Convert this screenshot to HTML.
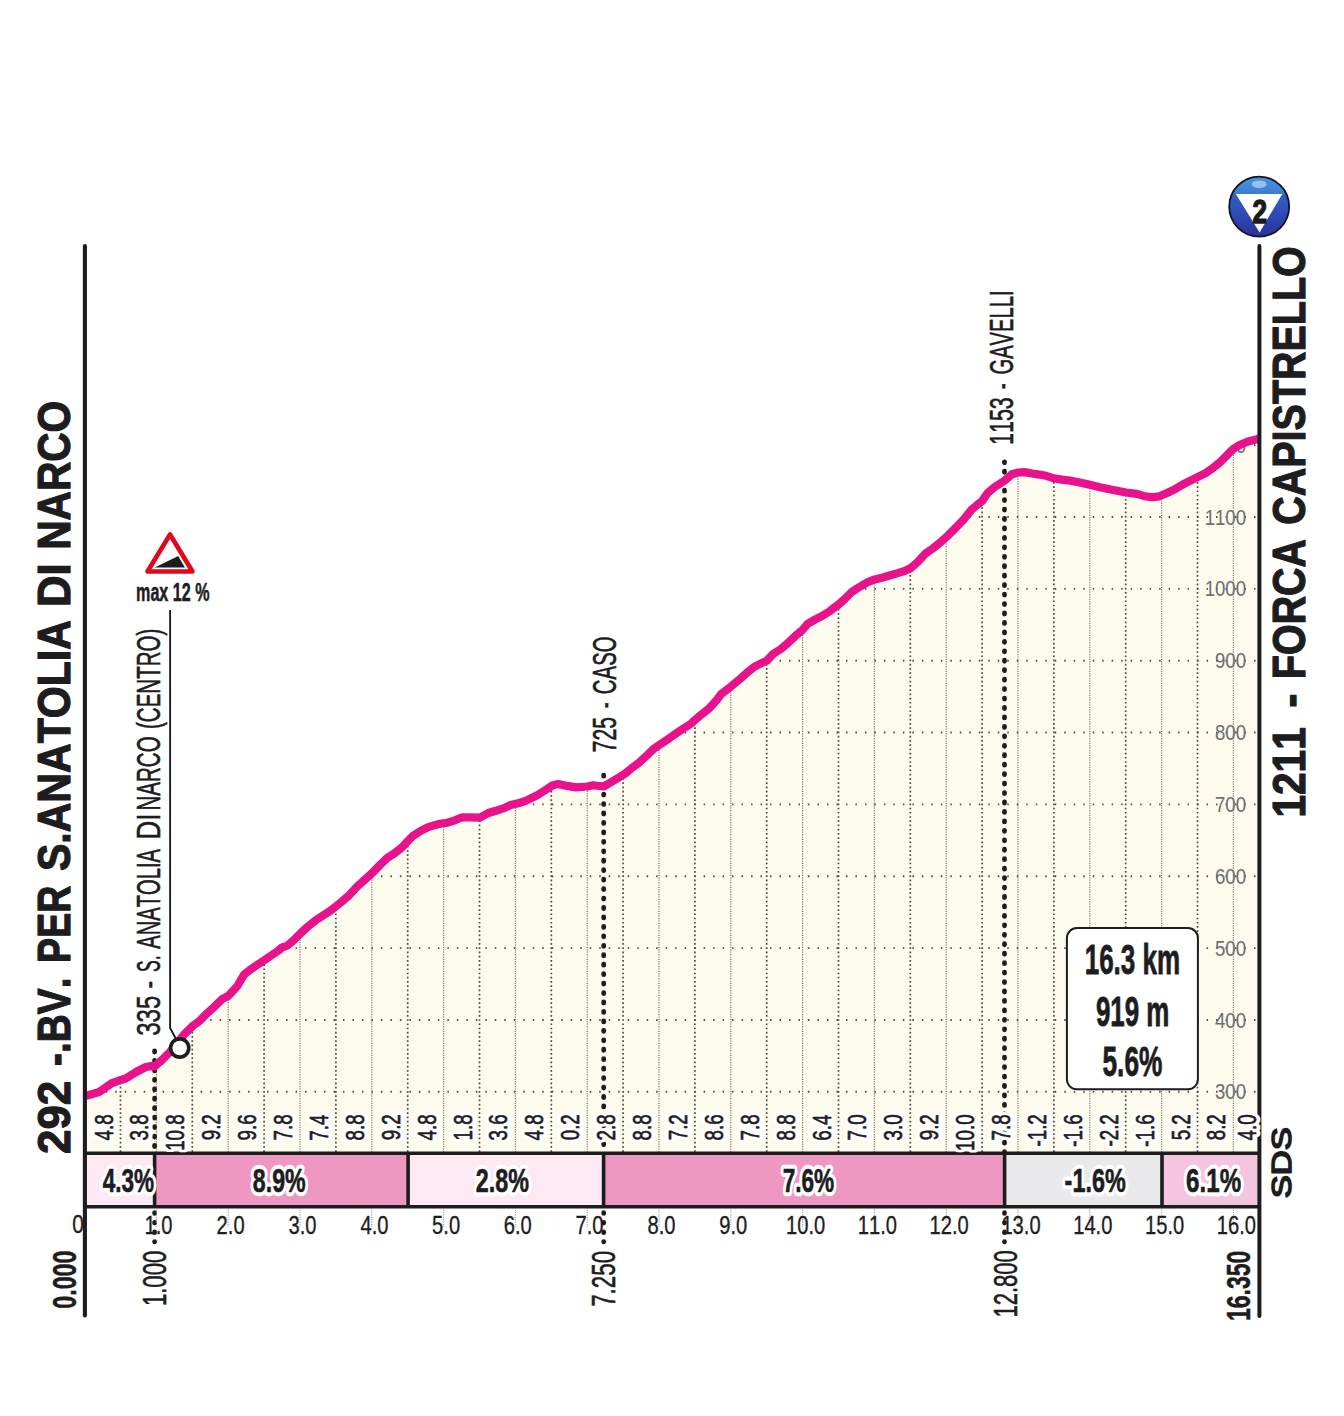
<!DOCTYPE html>
<html><head><meta charset="utf-8"><title>Profile</title><style>html,body{margin:0;padding:0;background:#fff;width:1344px;height:1416px;overflow:hidden}svg text{font-kerning:none}</style></head><body>
<svg width="1344" height="1416" viewBox="0 0 1344 1416" style="display:block;font-kerning:none">
<rect width="1344" height="1416" fill="#fff"/>
<defs><clipPath id="ca"><polygon points="84.9,1096.3 87,1095.5 98.9,1092.1 111.5,1083.4 120.5,1080 125.7,1078.5 136.1,1072 145.8,1067 151,1066.1 154.7,1066.3 162.1,1059.8 169.6,1052.3 184.9,1033.7 192.3,1026.3 199.8,1020.7 207.2,1013.2 214.6,1006.5 222.1,999.1 228.4,995.8 237,986.5 244.4,974.2 251.8,968.6 259.5,963.4 264.1,960.4 271.2,955.5 278.6,950.3 282.3,947.3 287.5,945.5 293.5,940.3 300.2,933.6 308.4,926.1 315.8,920.2 323.2,915.3 330.7,910.5 335.9,906.4 341.8,901.6 349.6,894.8 357.4,886.3 364.9,879.6 371.9,873.3 379.8,865.1 387.2,858 394.6,853.2 402.1,847.2 408,840.9 413.2,835.7 420.7,830.9 428.1,827.2 435.6,824.9 440,823.8 447.4,822.7 454.9,820.3 462.3,817.3 469.8,817.3 479.8,817.7 488.4,813 495.8,810.8 503.2,808.4 510.7,805 518.1,803.3 525.6,800.9 530,798.8 537.4,795.1 544.9,790.4 552.3,785.5 558.3,783.9 567.2,785.9 576.1,787.4 587.3,786.5 593.2,785.2 603.7,786.5 611.8,781.7 619.3,777.2 625.2,773.5 631.2,768.6 638.6,763 646,756.3 653.5,748.8 659.1,745.1 668.4,738.8 675.8,733.6 683.2,728.7 690.7,723.9 695.1,719.8 701.8,714.2 709.3,708.3 716.7,700.1 721.2,694 730.8,686.7 739.8,679.2 747.2,672.5 754.6,666.6 762.1,662.9 766.9,660.6 773.2,653.9 780.7,649.1 788.1,642.8 795.6,635.7 802.6,629.8 807.4,624 814.9,619.6 822.3,615.9 829.8,611.1 838.7,604.4 844.6,599.2 852.1,591.7 859.5,586.9 867,582.4 874.8,579.4 881.8,577.7 889.5,575.5 897.8,573.1 905.5,570.6 910.4,568.3 917.2,562.5 925,553.9 932.7,548.5 940.5,542.3 946.6,536.8 956,527.5 963.8,519.3 971.6,509.6 977,505 982.1,501.1 987.4,493.2 994.9,486.9 1004.6,480.6 1012,474.2 1018.2,472.5 1024.6,472.1 1032.1,473.5 1039.5,474.6 1047,476.1 1054,478.3 1061.8,479.6 1070,480.6 1077.4,482 1089.9,484.8 1099.8,487.2 1110.9,489.5 1126,492.5 1137,493.9 1144.4,496.2 1151.8,497.1 1159.5,496.3 1167.6,492.8 1175.2,489.1 1182.8,484.5 1190.4,480.7 1197.9,476.9 1205.5,473.1 1213.1,467.8 1220.7,461.7 1228.3,453.8 1233.6,448.8 1239.7,445 1247.3,441.8 1254.9,439.7 1259.4,438.5 1259.4,1153.3 84.9,1153.3"/></clipPath></defs>
<polygon points="84.9,1096.3 87,1095.5 98.9,1092.1 111.5,1083.4 120.5,1080 125.7,1078.5 136.1,1072 145.8,1067 151,1066.1 154.7,1066.3 162.1,1059.8 169.6,1052.3 184.9,1033.7 192.3,1026.3 199.8,1020.7 207.2,1013.2 214.6,1006.5 222.1,999.1 228.4,995.8 237,986.5 244.4,974.2 251.8,968.6 259.5,963.4 264.1,960.4 271.2,955.5 278.6,950.3 282.3,947.3 287.5,945.5 293.5,940.3 300.2,933.6 308.4,926.1 315.8,920.2 323.2,915.3 330.7,910.5 335.9,906.4 341.8,901.6 349.6,894.8 357.4,886.3 364.9,879.6 371.9,873.3 379.8,865.1 387.2,858 394.6,853.2 402.1,847.2 408,840.9 413.2,835.7 420.7,830.9 428.1,827.2 435.6,824.9 440,823.8 447.4,822.7 454.9,820.3 462.3,817.3 469.8,817.3 479.8,817.7 488.4,813 495.8,810.8 503.2,808.4 510.7,805 518.1,803.3 525.6,800.9 530,798.8 537.4,795.1 544.9,790.4 552.3,785.5 558.3,783.9 567.2,785.9 576.1,787.4 587.3,786.5 593.2,785.2 603.7,786.5 611.8,781.7 619.3,777.2 625.2,773.5 631.2,768.6 638.6,763 646,756.3 653.5,748.8 659.1,745.1 668.4,738.8 675.8,733.6 683.2,728.7 690.7,723.9 695.1,719.8 701.8,714.2 709.3,708.3 716.7,700.1 721.2,694 730.8,686.7 739.8,679.2 747.2,672.5 754.6,666.6 762.1,662.9 766.9,660.6 773.2,653.9 780.7,649.1 788.1,642.8 795.6,635.7 802.6,629.8 807.4,624 814.9,619.6 822.3,615.9 829.8,611.1 838.7,604.4 844.6,599.2 852.1,591.7 859.5,586.9 867,582.4 874.8,579.4 881.8,577.7 889.5,575.5 897.8,573.1 905.5,570.6 910.4,568.3 917.2,562.5 925,553.9 932.7,548.5 940.5,542.3 946.6,536.8 956,527.5 963.8,519.3 971.6,509.6 977,505 982.1,501.1 987.4,493.2 994.9,486.9 1004.6,480.6 1012,474.2 1018.2,472.5 1024.6,472.1 1032.1,473.5 1039.5,474.6 1047,476.1 1054,478.3 1061.8,479.6 1070,480.6 1077.4,482 1089.9,484.8 1099.8,487.2 1110.9,489.5 1126,492.5 1137,493.9 1144.4,496.2 1151.8,497.1 1159.5,496.3 1167.6,492.8 1175.2,489.1 1182.8,484.5 1190.4,480.7 1197.9,476.9 1205.5,473.1 1213.1,467.8 1220.7,461.7 1228.3,453.8 1233.6,448.8 1239.7,445 1247.3,441.8 1254.9,439.7 1259.4,438.5 1259.4,1153.3 84.9,1153.3" fill="#fdfbee"/>
<g clip-path="url(#ca)">
<line x1="86.75" y1="1091.8" x2="1259.4" y2="1091.8" stroke="#505050" stroke-width="1.9" stroke-dasharray="1.5 7.99"/>
<line x1="86.75" y1="1019.95" x2="1259.4" y2="1019.95" stroke="#505050" stroke-width="1.9" stroke-dasharray="1.5 7.99"/>
<line x1="86.75" y1="948.1" x2="1259.4" y2="948.1" stroke="#505050" stroke-width="1.9" stroke-dasharray="1.5 7.99"/>
<line x1="86.75" y1="876.25" x2="1259.4" y2="876.25" stroke="#505050" stroke-width="1.9" stroke-dasharray="1.5 7.99"/>
<line x1="86.75" y1="804.4" x2="1259.4" y2="804.4" stroke="#505050" stroke-width="1.9" stroke-dasharray="1.5 7.99"/>
<line x1="86.75" y1="732.55" x2="1259.4" y2="732.55" stroke="#505050" stroke-width="1.9" stroke-dasharray="1.5 7.99"/>
<line x1="86.75" y1="660.7" x2="1259.4" y2="660.7" stroke="#505050" stroke-width="1.9" stroke-dasharray="1.5 7.99"/>
<line x1="86.75" y1="588.85" x2="1259.4" y2="588.85" stroke="#505050" stroke-width="1.9" stroke-dasharray="1.5 7.99"/>
<line x1="86.75" y1="517" x2="1259.4" y2="517" stroke="#505050" stroke-width="1.9" stroke-dasharray="1.5 7.99"/>
<line x1="86.75" y1="445.15" x2="1259.4" y2="445.15" stroke="#505050" stroke-width="1.9" stroke-dasharray="1.5 7.99"/>
<line x1="156.4" y1="1152" x2="156.4" y2="300" stroke="#777" stroke-width="1.2" stroke-dasharray="1.2 1.2"/>
<line x1="228.2" y1="1152" x2="228.2" y2="300" stroke="#777" stroke-width="1.2" stroke-dasharray="1.2 1.2"/>
<line x1="300" y1="1152" x2="300" y2="300" stroke="#777" stroke-width="1.2" stroke-dasharray="1.2 1.2"/>
<line x1="371.8" y1="1152" x2="371.8" y2="300" stroke="#777" stroke-width="1.2" stroke-dasharray="1.2 1.2"/>
<line x1="443.6" y1="1152" x2="443.6" y2="300" stroke="#777" stroke-width="1.2" stroke-dasharray="1.2 1.2"/>
<line x1="515.4" y1="1152" x2="515.4" y2="300" stroke="#777" stroke-width="1.2" stroke-dasharray="1.2 1.2"/>
<line x1="587.2" y1="1152" x2="587.2" y2="300" stroke="#777" stroke-width="1.2" stroke-dasharray="1.2 1.2"/>
<line x1="659" y1="1152" x2="659" y2="300" stroke="#777" stroke-width="1.2" stroke-dasharray="1.2 1.2"/>
<line x1="730.8" y1="1152" x2="730.8" y2="300" stroke="#777" stroke-width="1.2" stroke-dasharray="1.2 1.2"/>
<line x1="802.6" y1="1152" x2="802.6" y2="300" stroke="#777" stroke-width="1.2" stroke-dasharray="1.2 1.2"/>
<line x1="874.4" y1="1152" x2="874.4" y2="300" stroke="#777" stroke-width="1.2" stroke-dasharray="1.2 1.2"/>
<line x1="946.2" y1="1152" x2="946.2" y2="300" stroke="#777" stroke-width="1.2" stroke-dasharray="1.2 1.2"/>
<line x1="1018" y1="1152" x2="1018" y2="300" stroke="#777" stroke-width="1.2" stroke-dasharray="1.2 1.2"/>
<line x1="1089.8" y1="1152" x2="1089.8" y2="300" stroke="#777" stroke-width="1.2" stroke-dasharray="1.2 1.2"/>
<line x1="1161.6" y1="1152" x2="1161.6" y2="300" stroke="#777" stroke-width="1.2" stroke-dasharray="1.2 1.2"/>
<line x1="1233.4" y1="1152" x2="1233.4" y2="300" stroke="#777" stroke-width="1.2" stroke-dasharray="1.2 1.2"/>
<line x1="120.5" y1="1152" x2="120.5" y2="300" stroke="#4a4a4a" stroke-width="1.7" stroke-dasharray="1.7 2.53"/>
<line x1="192.3" y1="1152" x2="192.3" y2="300" stroke="#4a4a4a" stroke-width="1.7" stroke-dasharray="1.7 2.53"/>
<line x1="264.1" y1="1152" x2="264.1" y2="300" stroke="#4a4a4a" stroke-width="1.7" stroke-dasharray="1.7 2.53"/>
<line x1="335.9" y1="1152" x2="335.9" y2="300" stroke="#4a4a4a" stroke-width="1.7" stroke-dasharray="1.7 2.53"/>
<line x1="407.7" y1="1152" x2="407.7" y2="300" stroke="#4a4a4a" stroke-width="1.7" stroke-dasharray="1.7 2.53"/>
<line x1="479.5" y1="1152" x2="479.5" y2="300" stroke="#4a4a4a" stroke-width="1.7" stroke-dasharray="1.7 2.53"/>
<line x1="551.3" y1="1152" x2="551.3" y2="300" stroke="#4a4a4a" stroke-width="1.7" stroke-dasharray="1.7 2.53"/>
<line x1="623.1" y1="1152" x2="623.1" y2="300" stroke="#4a4a4a" stroke-width="1.7" stroke-dasharray="1.7 2.53"/>
<line x1="694.9" y1="1152" x2="694.9" y2="300" stroke="#4a4a4a" stroke-width="1.7" stroke-dasharray="1.7 2.53"/>
<line x1="766.7" y1="1152" x2="766.7" y2="300" stroke="#4a4a4a" stroke-width="1.7" stroke-dasharray="1.7 2.53"/>
<line x1="838.5" y1="1152" x2="838.5" y2="300" stroke="#4a4a4a" stroke-width="1.7" stroke-dasharray="1.7 2.53"/>
<line x1="910.3" y1="1152" x2="910.3" y2="300" stroke="#4a4a4a" stroke-width="1.7" stroke-dasharray="1.7 2.53"/>
<line x1="982.1" y1="1152" x2="982.1" y2="300" stroke="#4a4a4a" stroke-width="1.7" stroke-dasharray="1.7 2.53"/>
<line x1="1053.9" y1="1152" x2="1053.9" y2="300" stroke="#4a4a4a" stroke-width="1.7" stroke-dasharray="1.7 2.53"/>
<line x1="1125.7" y1="1152" x2="1125.7" y2="300" stroke="#4a4a4a" stroke-width="1.7" stroke-dasharray="1.7 2.53"/>
<line x1="1197.5" y1="1152" x2="1197.5" y2="300" stroke="#4a4a4a" stroke-width="1.7" stroke-dasharray="1.7 2.53"/>
<text font-family="'Liberation Sans', Arial, sans-serif" font-size="21.2" fill="#6e6e6e" transform="translate(1215 1099.4) scale(0.8800 1)">300</text>
<text font-family="'Liberation Sans', Arial, sans-serif" font-size="21.2" fill="#6e6e6e" transform="translate(1215 1027.55) scale(0.8800 1)">400</text>
<text font-family="'Liberation Sans', Arial, sans-serif" font-size="21.2" fill="#6e6e6e" transform="translate(1215 955.7) scale(0.8800 1)">500</text>
<text font-family="'Liberation Sans', Arial, sans-serif" font-size="21.2" fill="#6e6e6e" transform="translate(1215 883.85) scale(0.8800 1)">600</text>
<text font-family="'Liberation Sans', Arial, sans-serif" font-size="21.2" fill="#6e6e6e" transform="translate(1215 812) scale(0.8800 1)">700</text>
<text font-family="'Liberation Sans', Arial, sans-serif" font-size="21.2" fill="#6e6e6e" transform="translate(1215 740.15) scale(0.8800 1)">800</text>
<text font-family="'Liberation Sans', Arial, sans-serif" font-size="21.2" fill="#6e6e6e" transform="translate(1215 668.3) scale(0.8800 1)">900</text>
<text font-family="'Liberation Sans', Arial, sans-serif" font-size="21.2" fill="#6e6e6e" transform="translate(1204.63 596.45) scale(0.8800 1)">1000</text>
<text font-family="'Liberation Sans', Arial, sans-serif" font-size="21.2" fill="#6e6e6e" transform="translate(1204.63 524.6) scale(0.8800 1)">1100</text>
<text font-family="'Liberation Sans', Arial, sans-serif" font-size="21.2" fill="#6e6e6e" transform="translate(1204.63 452.75) scale(0.8800 1)">1200</text>
</g>
<line x1="154.6" y1="1051" x2="154.6" y2="1152" stroke="#1d1d1f" stroke-width="4.8" stroke-linecap="round" stroke-dasharray="1 8.45"/>
<line x1="603.7" y1="775.2" x2="603.7" y2="1152" stroke="#1d1d1f" stroke-width="4.8" stroke-linecap="round" stroke-dasharray="1 8.45"/>
<line x1="1004.5" y1="461.8" x2="1004.5" y2="1152" stroke="#1d1d1f" stroke-width="4.8" stroke-linecap="round" stroke-dasharray="1 8.45"/>
<polyline points="84.9,1096.3 87,1095.5 98.9,1092.1 111.5,1083.4 120.5,1080 125.7,1078.5 136.1,1072 145.8,1067 151,1066.1 154.7,1066.3 162.1,1059.8 169.6,1052.3 184.9,1033.7 192.3,1026.3 199.8,1020.7 207.2,1013.2 214.6,1006.5 222.1,999.1 228.4,995.8 237,986.5 244.4,974.2 251.8,968.6 259.5,963.4 264.1,960.4 271.2,955.5 278.6,950.3 282.3,947.3 287.5,945.5 293.5,940.3 300.2,933.6 308.4,926.1 315.8,920.2 323.2,915.3 330.7,910.5 335.9,906.4 341.8,901.6 349.6,894.8 357.4,886.3 364.9,879.6 371.9,873.3 379.8,865.1 387.2,858 394.6,853.2 402.1,847.2 408,840.9 413.2,835.7 420.7,830.9 428.1,827.2 435.6,824.9 440,823.8 447.4,822.7 454.9,820.3 462.3,817.3 469.8,817.3 479.8,817.7 488.4,813 495.8,810.8 503.2,808.4 510.7,805 518.1,803.3 525.6,800.9 530,798.8 537.4,795.1 544.9,790.4 552.3,785.5 558.3,783.9 567.2,785.9 576.1,787.4 587.3,786.5 593.2,785.2 603.7,786.5 611.8,781.7 619.3,777.2 625.2,773.5 631.2,768.6 638.6,763 646,756.3 653.5,748.8 659.1,745.1 668.4,738.8 675.8,733.6 683.2,728.7 690.7,723.9 695.1,719.8 701.8,714.2 709.3,708.3 716.7,700.1 721.2,694 730.8,686.7 739.8,679.2 747.2,672.5 754.6,666.6 762.1,662.9 766.9,660.6 773.2,653.9 780.7,649.1 788.1,642.8 795.6,635.7 802.6,629.8 807.4,624 814.9,619.6 822.3,615.9 829.8,611.1 838.7,604.4 844.6,599.2 852.1,591.7 859.5,586.9 867,582.4 874.8,579.4 881.8,577.7 889.5,575.5 897.8,573.1 905.5,570.6 910.4,568.3 917.2,562.5 925,553.9 932.7,548.5 940.5,542.3 946.6,536.8 956,527.5 963.8,519.3 971.6,509.6 977,505 982.1,501.1 987.4,493.2 994.9,486.9 1004.6,480.6 1012,474.2 1018.2,472.5 1024.6,472.1 1032.1,473.5 1039.5,474.6 1047,476.1 1054,478.3 1061.8,479.6 1070,480.6 1077.4,482 1089.9,484.8 1099.8,487.2 1110.9,489.5 1126,492.5 1137,493.9 1144.4,496.2 1151.8,497.1 1159.5,496.3 1167.6,492.8 1175.2,489.1 1182.8,484.5 1190.4,480.7 1197.9,476.9 1205.5,473.1 1213.1,467.8 1220.7,461.7 1228.3,453.8 1233.6,448.8 1239.7,445 1247.3,441.8 1254.9,439.7 1259.4,438.5" fill="none" stroke="#e8128a" stroke-width="8.2" stroke-linejoin="round" stroke-linecap="butt"/>
<polyline points="170.1,610 170.1,1028 175.5,1038" fill="none" stroke="#1d1d1f" stroke-width="1.9"/>
<circle cx="179.7" cy="1048" r="9.1" fill="#fff" stroke="#1d1d1f" stroke-width="3.6"/>
<rect x="84.9" y="1153.3" width="69.7" height="53.4" fill="#fce9f3"/>
<rect x="154.6" y="1153.3" width="253.5" height="53.4" fill="#ee97c0"/>
<rect x="408.1" y="1153.3" width="195.5" height="53.4" fill="#fce9f3"/>
<rect x="603.6" y="1153.3" width="401" height="53.4" fill="#ee97c0"/>
<rect x="1004.6" y="1153.3" width="157.4" height="53.4" fill="#e9e9ec"/>
<rect x="1162" y="1153.3" width="97.4" height="53.4" fill="#f5c4de"/>
<line x1="84.9" y1="1153.3" x2="1259.4" y2="1153.3" stroke="#1d1d1f" stroke-width="3.6"/>
<line x1="84.9" y1="1206.7" x2="1259.4" y2="1206.7" stroke="#1d1d1f" stroke-width="3.6"/>
<line x1="154.6" y1="1153.3" x2="154.6" y2="1206.7" stroke="#1d1d1f" stroke-width="3.6"/>
<line x1="408.1" y1="1153.3" x2="408.1" y2="1206.7" stroke="#1d1d1f" stroke-width="3.6"/>
<line x1="603.6" y1="1153.3" x2="603.6" y2="1206.7" stroke="#1d1d1f" stroke-width="3.6"/>
<line x1="1004.6" y1="1153.3" x2="1004.6" y2="1206.7" stroke="#1d1d1f" stroke-width="3.6"/>
<line x1="1162" y1="1153.3" x2="1162" y2="1206.7" stroke="#1d1d1f" stroke-width="3.6"/>
<line x1="154.6" y1="1212.7" x2="154.6" y2="1242" stroke="#1d1d1f" stroke-width="4.7" stroke-linecap="round" stroke-dasharray="0.8 8.8"/>
<line x1="603.7" y1="1212.7" x2="603.7" y2="1242" stroke="#1d1d1f" stroke-width="4.7" stroke-linecap="round" stroke-dasharray="0.8 8.8"/>
<line x1="1004.5" y1="1212.7" x2="1004.5" y2="1242" stroke="#1d1d1f" stroke-width="4.7" stroke-linecap="round" stroke-dasharray="0.8 8.8"/>
<line x1="84.9" y1="246" x2="84.9" y2="1315.5" stroke="#1d1d1f" stroke-width="4.1" stroke-linecap="round"/>
<line x1="1259.4" y1="246" x2="1259.4" y2="1316" stroke="#1d1d1f" stroke-width="4.0" stroke-linecap="round"/>
<text font-family="'Liberation Sans', Arial, sans-serif" font-weight="bold" font-size="32.6" fill="#fff" stroke="#fff" stroke-width="8.5" stroke-linejoin="round" transform="translate(102.66 1191.9) scale(0.6922 1)">4.3%</text><text font-family="'Liberation Sans', Arial, sans-serif" font-weight="bold" font-size="32.6" fill="#1d1d1f" stroke="#1d1d1f" stroke-width="0.6" stroke-linejoin="round" transform="translate(102.66 1191.9) scale(0.6922 1)">4.3%</text>
<text font-family="'Liberation Sans', Arial, sans-serif" font-weight="bold" font-size="32.6" fill="#fff" stroke="#fff" stroke-width="8.5" stroke-linejoin="round" transform="translate(252.86 1191.9) scale(0.7112 1)">8.9%</text><text font-family="'Liberation Sans', Arial, sans-serif" font-weight="bold" font-size="32.6" fill="#1d1d1f" stroke="#1d1d1f" stroke-width="0.6" stroke-linejoin="round" transform="translate(252.86 1191.9) scale(0.7112 1)">8.9%</text>
<text font-family="'Liberation Sans', Arial, sans-serif" font-weight="bold" font-size="32.6" fill="#fff" stroke="#fff" stroke-width="8.5" stroke-linejoin="round" transform="translate(475.69 1191.9) scale(0.7163 1)">2.8%</text><text font-family="'Liberation Sans', Arial, sans-serif" font-weight="bold" font-size="32.6" fill="#1d1d1f" stroke="#1d1d1f" stroke-width="0.6" stroke-linejoin="round" transform="translate(475.69 1191.9) scale(0.7163 1)">2.8%</text>
<text font-family="'Liberation Sans', Arial, sans-serif" font-weight="bold" font-size="32.6" fill="#fff" stroke="#fff" stroke-width="8.5" stroke-linejoin="round" transform="translate(782.63 1191.9) scale(0.6940 1)">7.6%</text><text font-family="'Liberation Sans', Arial, sans-serif" font-weight="bold" font-size="32.6" fill="#1d1d1f" stroke="#1d1d1f" stroke-width="0.6" stroke-linejoin="round" transform="translate(782.63 1191.9) scale(0.6940 1)">7.6%</text>
<text font-family="'Liberation Sans', Arial, sans-serif" font-weight="bold" font-size="32.6" fill="#fff" stroke="#fff" stroke-width="8.5" stroke-linejoin="round" transform="translate(1064.59 1191.9) scale(0.7178 1)">-1.6%</text><text font-family="'Liberation Sans', Arial, sans-serif" font-weight="bold" font-size="32.6" fill="#1d1d1f" stroke="#1d1d1f" stroke-width="0.6" stroke-linejoin="round" transform="translate(1064.59 1191.9) scale(0.7178 1)">-1.6%</text>
<text font-family="'Liberation Sans', Arial, sans-serif" font-weight="bold" font-size="32.6" fill="#fff" stroke="#fff" stroke-width="8.5" stroke-linejoin="round" transform="translate(1186.12 1191.9) scale(0.7405 1)">6.1%</text><text font-family="'Liberation Sans', Arial, sans-serif" font-weight="bold" font-size="32.6" fill="#1d1d1f" stroke="#1d1d1f" stroke-width="0.6" stroke-linejoin="round" transform="translate(1186.12 1191.9) scale(0.7405 1)">6.1%</text>
<text font-family="'Liberation Sans', Arial, sans-serif" font-size="26.2" fill="#fff" stroke="#fff" stroke-width="8.5" stroke-linejoin="round" transform="translate(112.55 1140.41) rotate(-90) scale(0.7160 1)">4.8</text><text font-family="'Liberation Sans', Arial, sans-serif" font-size="26.2" fill="#1d1d1f" stroke="#1d1d1f" stroke-width="0.7" stroke-linejoin="round" transform="translate(112.55 1140.41) rotate(-90) scale(0.7160 1)">4.8</text>
<text font-family="'Liberation Sans', Arial, sans-serif" font-size="26.2" fill="#fff" stroke="#fff" stroke-width="8.5" stroke-linejoin="round" transform="translate(148.45 1140.41) rotate(-90) scale(0.7160 1)">3.8</text><text font-family="'Liberation Sans', Arial, sans-serif" font-size="26.2" fill="#1d1d1f" stroke="#1d1d1f" stroke-width="0.7" stroke-linejoin="round" transform="translate(148.45 1140.41) rotate(-90) scale(0.7160 1)">3.8</text>
<text font-family="'Liberation Sans', Arial, sans-serif" font-size="26.2" fill="#fff" stroke="#fff" stroke-width="8.5" stroke-linejoin="round" transform="translate(184.35 1150.85) rotate(-90) scale(0.7160 1)">10.8</text><text font-family="'Liberation Sans', Arial, sans-serif" font-size="26.2" fill="#1d1d1f" stroke="#1d1d1f" stroke-width="0.7" stroke-linejoin="round" transform="translate(184.35 1150.85) rotate(-90) scale(0.7160 1)">10.8</text>
<text font-family="'Liberation Sans', Arial, sans-serif" font-size="26.2" fill="#fff" stroke="#fff" stroke-width="8.5" stroke-linejoin="round" transform="translate(220.25 1140.28) rotate(-90) scale(0.7160 1)">9.2</text><text font-family="'Liberation Sans', Arial, sans-serif" font-size="26.2" fill="#1d1d1f" stroke="#1d1d1f" stroke-width="0.7" stroke-linejoin="round" transform="translate(220.25 1140.28) rotate(-90) scale(0.7160 1)">9.2</text>
<text font-family="'Liberation Sans', Arial, sans-serif" font-size="26.2" fill="#fff" stroke="#fff" stroke-width="8.5" stroke-linejoin="round" transform="translate(256.15 1140.4) rotate(-90) scale(0.7160 1)">9.6</text><text font-family="'Liberation Sans', Arial, sans-serif" font-size="26.2" fill="#1d1d1f" stroke="#1d1d1f" stroke-width="0.7" stroke-linejoin="round" transform="translate(256.15 1140.4) rotate(-90) scale(0.7160 1)">9.6</text>
<text font-family="'Liberation Sans', Arial, sans-serif" font-size="26.2" fill="#fff" stroke="#fff" stroke-width="8.5" stroke-linejoin="round" transform="translate(292.05 1140.41) rotate(-90) scale(0.7160 1)">7.8</text><text font-family="'Liberation Sans', Arial, sans-serif" font-size="26.2" fill="#1d1d1f" stroke="#1d1d1f" stroke-width="0.7" stroke-linejoin="round" transform="translate(292.05 1140.41) rotate(-90) scale(0.7160 1)">7.8</text>
<text font-family="'Liberation Sans', Arial, sans-serif" font-size="26.2" fill="#fff" stroke="#fff" stroke-width="8.5" stroke-linejoin="round" transform="translate(327.95 1140.68) rotate(-90) scale(0.7160 1)">7.4</text><text font-family="'Liberation Sans', Arial, sans-serif" font-size="26.2" fill="#1d1d1f" stroke="#1d1d1f" stroke-width="0.7" stroke-linejoin="round" transform="translate(327.95 1140.68) rotate(-90) scale(0.7160 1)">7.4</text>
<text font-family="'Liberation Sans', Arial, sans-serif" font-size="26.2" fill="#fff" stroke="#fff" stroke-width="8.5" stroke-linejoin="round" transform="translate(363.85 1140.41) rotate(-90) scale(0.7160 1)">8.8</text><text font-family="'Liberation Sans', Arial, sans-serif" font-size="26.2" fill="#1d1d1f" stroke="#1d1d1f" stroke-width="0.7" stroke-linejoin="round" transform="translate(363.85 1140.41) rotate(-90) scale(0.7160 1)">8.8</text>
<text font-family="'Liberation Sans', Arial, sans-serif" font-size="26.2" fill="#fff" stroke="#fff" stroke-width="8.5" stroke-linejoin="round" transform="translate(399.75 1140.28) rotate(-90) scale(0.7160 1)">9.2</text><text font-family="'Liberation Sans', Arial, sans-serif" font-size="26.2" fill="#1d1d1f" stroke="#1d1d1f" stroke-width="0.7" stroke-linejoin="round" transform="translate(399.75 1140.28) rotate(-90) scale(0.7160 1)">9.2</text>
<text font-family="'Liberation Sans', Arial, sans-serif" font-size="26.2" fill="#fff" stroke="#fff" stroke-width="8.5" stroke-linejoin="round" transform="translate(435.65 1140.41) rotate(-90) scale(0.7160 1)">4.8</text><text font-family="'Liberation Sans', Arial, sans-serif" font-size="26.2" fill="#1d1d1f" stroke="#1d1d1f" stroke-width="0.7" stroke-linejoin="round" transform="translate(435.65 1140.41) rotate(-90) scale(0.7160 1)">4.8</text>
<text font-family="'Liberation Sans', Arial, sans-serif" font-size="26.2" fill="#fff" stroke="#fff" stroke-width="8.5" stroke-linejoin="round" transform="translate(471.55 1140.41) rotate(-90) scale(0.7160 1)">1.8</text><text font-family="'Liberation Sans', Arial, sans-serif" font-size="26.2" fill="#1d1d1f" stroke="#1d1d1f" stroke-width="0.7" stroke-linejoin="round" transform="translate(471.55 1140.41) rotate(-90) scale(0.7160 1)">1.8</text>
<text font-family="'Liberation Sans', Arial, sans-serif" font-size="26.2" fill="#fff" stroke="#fff" stroke-width="8.5" stroke-linejoin="round" transform="translate(507.45 1140.4) rotate(-90) scale(0.7160 1)">3.6</text><text font-family="'Liberation Sans', Arial, sans-serif" font-size="26.2" fill="#1d1d1f" stroke="#1d1d1f" stroke-width="0.7" stroke-linejoin="round" transform="translate(507.45 1140.4) rotate(-90) scale(0.7160 1)">3.6</text>
<text font-family="'Liberation Sans', Arial, sans-serif" font-size="26.2" fill="#fff" stroke="#fff" stroke-width="8.5" stroke-linejoin="round" transform="translate(543.35 1140.41) rotate(-90) scale(0.7160 1)">4.8</text><text font-family="'Liberation Sans', Arial, sans-serif" font-size="26.2" fill="#1d1d1f" stroke="#1d1d1f" stroke-width="0.7" stroke-linejoin="round" transform="translate(543.35 1140.41) rotate(-90) scale(0.7160 1)">4.8</text>
<text font-family="'Liberation Sans', Arial, sans-serif" font-size="26.2" fill="#fff" stroke="#fff" stroke-width="8.5" stroke-linejoin="round" transform="translate(579.25 1140.28) rotate(-90) scale(0.7160 1)">0.2</text><text font-family="'Liberation Sans', Arial, sans-serif" font-size="26.2" fill="#1d1d1f" stroke="#1d1d1f" stroke-width="0.7" stroke-linejoin="round" transform="translate(579.25 1140.28) rotate(-90) scale(0.7160 1)">0.2</text>
<text font-family="'Liberation Sans', Arial, sans-serif" font-size="26.2" fill="#fff" stroke="#fff" stroke-width="8.5" stroke-linejoin="round" transform="translate(615.15 1140.41) rotate(-90) scale(0.7160 1)">2.8</text><text font-family="'Liberation Sans', Arial, sans-serif" font-size="26.2" fill="#1d1d1f" stroke="#1d1d1f" stroke-width="0.7" stroke-linejoin="round" transform="translate(615.15 1140.41) rotate(-90) scale(0.7160 1)">2.8</text>
<text font-family="'Liberation Sans', Arial, sans-serif" font-size="26.2" fill="#fff" stroke="#fff" stroke-width="8.5" stroke-linejoin="round" transform="translate(651.05 1140.41) rotate(-90) scale(0.7160 1)">8.8</text><text font-family="'Liberation Sans', Arial, sans-serif" font-size="26.2" fill="#1d1d1f" stroke="#1d1d1f" stroke-width="0.7" stroke-linejoin="round" transform="translate(651.05 1140.41) rotate(-90) scale(0.7160 1)">8.8</text>
<text font-family="'Liberation Sans', Arial, sans-serif" font-size="26.2" fill="#fff" stroke="#fff" stroke-width="8.5" stroke-linejoin="round" transform="translate(686.95 1140.28) rotate(-90) scale(0.7160 1)">7.2</text><text font-family="'Liberation Sans', Arial, sans-serif" font-size="26.2" fill="#1d1d1f" stroke="#1d1d1f" stroke-width="0.7" stroke-linejoin="round" transform="translate(686.95 1140.28) rotate(-90) scale(0.7160 1)">7.2</text>
<text font-family="'Liberation Sans', Arial, sans-serif" font-size="26.2" fill="#fff" stroke="#fff" stroke-width="8.5" stroke-linejoin="round" transform="translate(722.85 1140.4) rotate(-90) scale(0.7160 1)">8.6</text><text font-family="'Liberation Sans', Arial, sans-serif" font-size="26.2" fill="#1d1d1f" stroke="#1d1d1f" stroke-width="0.7" stroke-linejoin="round" transform="translate(722.85 1140.4) rotate(-90) scale(0.7160 1)">8.6</text>
<text font-family="'Liberation Sans', Arial, sans-serif" font-size="26.2" fill="#fff" stroke="#fff" stroke-width="8.5" stroke-linejoin="round" transform="translate(758.75 1140.41) rotate(-90) scale(0.7160 1)">7.8</text><text font-family="'Liberation Sans', Arial, sans-serif" font-size="26.2" fill="#1d1d1f" stroke="#1d1d1f" stroke-width="0.7" stroke-linejoin="round" transform="translate(758.75 1140.41) rotate(-90) scale(0.7160 1)">7.8</text>
<text font-family="'Liberation Sans', Arial, sans-serif" font-size="26.2" fill="#fff" stroke="#fff" stroke-width="8.5" stroke-linejoin="round" transform="translate(794.65 1140.41) rotate(-90) scale(0.7160 1)">8.8</text><text font-family="'Liberation Sans', Arial, sans-serif" font-size="26.2" fill="#1d1d1f" stroke="#1d1d1f" stroke-width="0.7" stroke-linejoin="round" transform="translate(794.65 1140.41) rotate(-90) scale(0.7160 1)">8.8</text>
<text font-family="'Liberation Sans', Arial, sans-serif" font-size="26.2" fill="#fff" stroke="#fff" stroke-width="8.5" stroke-linejoin="round" transform="translate(830.55 1140.68) rotate(-90) scale(0.7160 1)">6.4</text><text font-family="'Liberation Sans', Arial, sans-serif" font-size="26.2" fill="#1d1d1f" stroke="#1d1d1f" stroke-width="0.7" stroke-linejoin="round" transform="translate(830.55 1140.68) rotate(-90) scale(0.7160 1)">6.4</text>
<text font-family="'Liberation Sans', Arial, sans-serif" font-size="26.2" fill="#fff" stroke="#fff" stroke-width="8.5" stroke-linejoin="round" transform="translate(866.45 1140.5) rotate(-90) scale(0.7160 1)">7.0</text><text font-family="'Liberation Sans', Arial, sans-serif" font-size="26.2" fill="#1d1d1f" stroke="#1d1d1f" stroke-width="0.7" stroke-linejoin="round" transform="translate(866.45 1140.5) rotate(-90) scale(0.7160 1)">7.0</text>
<text font-family="'Liberation Sans', Arial, sans-serif" font-size="26.2" fill="#fff" stroke="#fff" stroke-width="8.5" stroke-linejoin="round" transform="translate(902.35 1140.5) rotate(-90) scale(0.7160 1)">3.0</text><text font-family="'Liberation Sans', Arial, sans-serif" font-size="26.2" fill="#1d1d1f" stroke="#1d1d1f" stroke-width="0.7" stroke-linejoin="round" transform="translate(902.35 1140.5) rotate(-90) scale(0.7160 1)">3.0</text>
<text font-family="'Liberation Sans', Arial, sans-serif" font-size="26.2" fill="#fff" stroke="#fff" stroke-width="8.5" stroke-linejoin="round" transform="translate(938.25 1140.28) rotate(-90) scale(0.7160 1)">9.2</text><text font-family="'Liberation Sans', Arial, sans-serif" font-size="26.2" fill="#1d1d1f" stroke="#1d1d1f" stroke-width="0.7" stroke-linejoin="round" transform="translate(938.25 1140.28) rotate(-90) scale(0.7160 1)">9.2</text>
<text font-family="'Liberation Sans', Arial, sans-serif" font-size="26.2" fill="#fff" stroke="#fff" stroke-width="8.5" stroke-linejoin="round" transform="translate(974.15 1150.93) rotate(-90) scale(0.7160 1)">10.0</text><text font-family="'Liberation Sans', Arial, sans-serif" font-size="26.2" fill="#1d1d1f" stroke="#1d1d1f" stroke-width="0.7" stroke-linejoin="round" transform="translate(974.15 1150.93) rotate(-90) scale(0.7160 1)">10.0</text>
<text font-family="'Liberation Sans', Arial, sans-serif" font-size="26.2" fill="#fff" stroke="#fff" stroke-width="8.5" stroke-linejoin="round" transform="translate(1010.05 1140.41) rotate(-90) scale(0.7160 1)">7.8</text><text font-family="'Liberation Sans', Arial, sans-serif" font-size="26.2" fill="#1d1d1f" stroke="#1d1d1f" stroke-width="0.7" stroke-linejoin="round" transform="translate(1010.05 1140.41) rotate(-90) scale(0.7160 1)">7.8</text>
<text font-family="'Liberation Sans', Arial, sans-serif" font-size="26.2" fill="#fff" stroke="#fff" stroke-width="8.5" stroke-linejoin="round" transform="translate(1045.95 1146.53) rotate(-90) scale(0.7160 1)">-1.2</text><text font-family="'Liberation Sans', Arial, sans-serif" font-size="26.2" fill="#1d1d1f" stroke="#1d1d1f" stroke-width="0.7" stroke-linejoin="round" transform="translate(1045.95 1146.53) rotate(-90) scale(0.7160 1)">-1.2</text>
<text font-family="'Liberation Sans', Arial, sans-serif" font-size="26.2" fill="#fff" stroke="#fff" stroke-width="8.5" stroke-linejoin="round" transform="translate(1081.85 1146.65) rotate(-90) scale(0.7160 1)">-1.6</text><text font-family="'Liberation Sans', Arial, sans-serif" font-size="26.2" fill="#1d1d1f" stroke="#1d1d1f" stroke-width="0.7" stroke-linejoin="round" transform="translate(1081.85 1146.65) rotate(-90) scale(0.7160 1)">-1.6</text>
<text font-family="'Liberation Sans', Arial, sans-serif" font-size="26.2" fill="#fff" stroke="#fff" stroke-width="8.5" stroke-linejoin="round" transform="translate(1117.75 1146.53) rotate(-90) scale(0.7160 1)">-2.2</text><text font-family="'Liberation Sans', Arial, sans-serif" font-size="26.2" fill="#1d1d1f" stroke="#1d1d1f" stroke-width="0.7" stroke-linejoin="round" transform="translate(1117.75 1146.53) rotate(-90) scale(0.7160 1)">-2.2</text>
<text font-family="'Liberation Sans', Arial, sans-serif" font-size="26.2" fill="#fff" stroke="#fff" stroke-width="8.5" stroke-linejoin="round" transform="translate(1153.65 1146.65) rotate(-90) scale(0.7160 1)">-1.6</text><text font-family="'Liberation Sans', Arial, sans-serif" font-size="26.2" fill="#1d1d1f" stroke="#1d1d1f" stroke-width="0.7" stroke-linejoin="round" transform="translate(1153.65 1146.65) rotate(-90) scale(0.7160 1)">-1.6</text>
<text font-family="'Liberation Sans', Arial, sans-serif" font-size="26.2" fill="#fff" stroke="#fff" stroke-width="8.5" stroke-linejoin="round" transform="translate(1189.55 1140.28) rotate(-90) scale(0.7160 1)">5.2</text><text font-family="'Liberation Sans', Arial, sans-serif" font-size="26.2" fill="#1d1d1f" stroke="#1d1d1f" stroke-width="0.7" stroke-linejoin="round" transform="translate(1189.55 1140.28) rotate(-90) scale(0.7160 1)">5.2</text>
<text font-family="'Liberation Sans', Arial, sans-serif" font-size="26.2" fill="#fff" stroke="#fff" stroke-width="8.5" stroke-linejoin="round" transform="translate(1225.45 1140.28) rotate(-90) scale(0.7160 1)">8.2</text><text font-family="'Liberation Sans', Arial, sans-serif" font-size="26.2" fill="#1d1d1f" stroke="#1d1d1f" stroke-width="0.7" stroke-linejoin="round" transform="translate(1225.45 1140.28) rotate(-90) scale(0.7160 1)">8.2</text>
<text font-family="'Liberation Sans', Arial, sans-serif" font-size="26.2" fill="#fff" stroke="#fff" stroke-width="8.5" stroke-linejoin="round" transform="translate(1255.96 1140.5) rotate(-90) scale(0.7160 1)">4.0</text><text font-family="'Liberation Sans', Arial, sans-serif" font-size="26.2" fill="#1d1d1f" stroke="#1d1d1f" stroke-width="0.7" stroke-linejoin="round" transform="translate(1255.96 1140.5) rotate(-90) scale(0.7160 1)">4.0</text>
<line x1="156.4" y1="1209.5" x2="156.4" y2="1227" stroke="#9a9a9a" stroke-width="1.1" stroke-dasharray="1.2 1.2"/>
<line x1="228.2" y1="1209.5" x2="228.2" y2="1227" stroke="#9a9a9a" stroke-width="1.1" stroke-dasharray="1.2 1.2"/>
<line x1="300" y1="1209.5" x2="300" y2="1227" stroke="#9a9a9a" stroke-width="1.1" stroke-dasharray="1.2 1.2"/>
<line x1="371.8" y1="1209.5" x2="371.8" y2="1227" stroke="#9a9a9a" stroke-width="1.1" stroke-dasharray="1.2 1.2"/>
<line x1="443.6" y1="1209.5" x2="443.6" y2="1227" stroke="#9a9a9a" stroke-width="1.1" stroke-dasharray="1.2 1.2"/>
<line x1="515.4" y1="1209.5" x2="515.4" y2="1227" stroke="#9a9a9a" stroke-width="1.1" stroke-dasharray="1.2 1.2"/>
<line x1="587.2" y1="1209.5" x2="587.2" y2="1227" stroke="#9a9a9a" stroke-width="1.1" stroke-dasharray="1.2 1.2"/>
<line x1="659" y1="1209.5" x2="659" y2="1227" stroke="#9a9a9a" stroke-width="1.1" stroke-dasharray="1.2 1.2"/>
<line x1="730.8" y1="1209.5" x2="730.8" y2="1227" stroke="#9a9a9a" stroke-width="1.1" stroke-dasharray="1.2 1.2"/>
<line x1="802.6" y1="1209.5" x2="802.6" y2="1227" stroke="#9a9a9a" stroke-width="1.1" stroke-dasharray="1.2 1.2"/>
<line x1="874.4" y1="1209.5" x2="874.4" y2="1227" stroke="#9a9a9a" stroke-width="1.1" stroke-dasharray="1.2 1.2"/>
<line x1="946.2" y1="1209.5" x2="946.2" y2="1227" stroke="#9a9a9a" stroke-width="1.1" stroke-dasharray="1.2 1.2"/>
<line x1="1018" y1="1209.5" x2="1018" y2="1227" stroke="#9a9a9a" stroke-width="1.1" stroke-dasharray="1.2 1.2"/>
<line x1="1089.8" y1="1209.5" x2="1089.8" y2="1227" stroke="#9a9a9a" stroke-width="1.1" stroke-dasharray="1.2 1.2"/>
<line x1="1161.6" y1="1209.5" x2="1161.6" y2="1227" stroke="#9a9a9a" stroke-width="1.1" stroke-dasharray="1.2 1.2"/>
<line x1="1233.4" y1="1209.5" x2="1233.4" y2="1227" stroke="#9a9a9a" stroke-width="1.1" stroke-dasharray="1.2 1.2"/>
<text font-family="'Liberation Sans', Arial, sans-serif" font-size="26" fill="#1d1d1f" stroke="#1d1d1f" stroke-width="0.35" stroke-linejoin="round" transform="translate(144.52 1233.7) scale(0.7750 1)">1.0</text>
<text font-family="'Liberation Sans', Arial, sans-serif" font-size="26" fill="#1d1d1f" stroke="#1d1d1f" stroke-width="0.35" stroke-linejoin="round" transform="translate(216.58 1233.7) scale(0.7750 1)">2.0</text>
<text font-family="'Liberation Sans', Arial, sans-serif" font-size="26" fill="#1d1d1f" stroke="#1d1d1f" stroke-width="0.35" stroke-linejoin="round" transform="translate(288.5 1233.7) scale(0.7750 1)">3.0</text>
<text font-family="'Liberation Sans', Arial, sans-serif" font-size="26" fill="#1d1d1f" stroke="#1d1d1f" stroke-width="0.35" stroke-linejoin="round" transform="translate(360.46 1233.7) scale(0.7750 1)">4.0</text>
<text font-family="'Liberation Sans', Arial, sans-serif" font-size="26" fill="#1d1d1f" stroke="#1d1d1f" stroke-width="0.35" stroke-linejoin="round" transform="translate(432.08 1233.7) scale(0.7750 1)">5.0</text>
<text font-family="'Liberation Sans', Arial, sans-serif" font-size="26" fill="#1d1d1f" stroke="#1d1d1f" stroke-width="0.35" stroke-linejoin="round" transform="translate(503.78 1233.7) scale(0.7750 1)">6.0</text>
<text font-family="'Liberation Sans', Arial, sans-serif" font-size="26" fill="#1d1d1f" stroke="#1d1d1f" stroke-width="0.35" stroke-linejoin="round" transform="translate(575.57 1233.7) scale(0.7750 1)">7.0</text>
<text font-family="'Liberation Sans', Arial, sans-serif" font-size="26" fill="#1d1d1f" stroke="#1d1d1f" stroke-width="0.35" stroke-linejoin="round" transform="translate(647.45 1233.7) scale(0.7750 1)">8.0</text>
<text font-family="'Liberation Sans', Arial, sans-serif" font-size="26" fill="#1d1d1f" stroke="#1d1d1f" stroke-width="0.35" stroke-linejoin="round" transform="translate(719.22 1233.7) scale(0.7750 1)">9.0</text>
<text font-family="'Liberation Sans', Arial, sans-serif" font-size="26" fill="#1d1d1f" stroke="#1d1d1f" stroke-width="0.35" stroke-linejoin="round" transform="translate(786.02 1233.7) scale(0.7750 1)">10.0</text>
<text font-family="'Liberation Sans', Arial, sans-serif" font-size="26" fill="#1d1d1f" stroke="#1d1d1f" stroke-width="0.35" stroke-linejoin="round" transform="translate(857.82 1233.7) scale(0.7750 1)">11.0</text>
<text font-family="'Liberation Sans', Arial, sans-serif" font-size="26" fill="#1d1d1f" stroke="#1d1d1f" stroke-width="0.35" stroke-linejoin="round" transform="translate(929.62 1233.7) scale(0.7750 1)">12.0</text>
<text font-family="'Liberation Sans', Arial, sans-serif" font-size="26" fill="#1d1d1f" stroke="#1d1d1f" stroke-width="0.35" stroke-linejoin="round" transform="translate(1001.42 1233.7) scale(0.7750 1)">13.0</text>
<text font-family="'Liberation Sans', Arial, sans-serif" font-size="26" fill="#1d1d1f" stroke="#1d1d1f" stroke-width="0.35" stroke-linejoin="round" transform="translate(1073.22 1233.7) scale(0.7750 1)">14.0</text>
<text font-family="'Liberation Sans', Arial, sans-serif" font-size="26" fill="#1d1d1f" stroke="#1d1d1f" stroke-width="0.35" stroke-linejoin="round" transform="translate(1145.02 1233.7) scale(0.7750 1)">15.0</text>
<text font-family="'Liberation Sans', Arial, sans-serif" font-size="26" fill="#1d1d1f" stroke="#1d1d1f" stroke-width="0.35" stroke-linejoin="round" transform="translate(1216.82 1233.7) scale(0.7750 1)">16.0</text>
<text font-family="'Liberation Sans', Arial, sans-serif" font-size="26" fill="#1d1d1f" stroke="#1d1d1f" stroke-width="0.35" stroke-linejoin="round" transform="translate(72.36 1233) scale(0.8006 1)">0</text>
<text font-family="'Liberation Sans', Arial, sans-serif" font-weight="bold" font-size="33.2" fill="#1d1d1f" stroke="#1d1d1f" stroke-width="0.5" stroke-linejoin="round" transform="translate(75.6 1308.67) rotate(-90) scale(0.6990 1)">0.000</text>
<text font-family="'Liberation Sans', Arial, sans-serif" font-size="33.2" fill="#1d1d1f" stroke="#1d1d1f" stroke-width="0.6" stroke-linejoin="round" transform="translate(166 1306.08) rotate(-90) scale(0.6662 1)">1.000</text>
<text font-family="'Liberation Sans', Arial, sans-serif" font-size="33.2" fill="#1d1d1f" stroke="#1d1d1f" stroke-width="0.6" stroke-linejoin="round" transform="translate(615.4 1306.85) rotate(-90) scale(0.6756 1)">7.250</text>
<text font-family="'Liberation Sans', Arial, sans-serif" font-size="33.2" fill="#1d1d1f" stroke="#1d1d1f" stroke-width="0.6" stroke-linejoin="round" transform="translate(1016.7 1317.58) rotate(-90) scale(0.6641 1)">12.800</text>
<text font-family="'Liberation Sans', Arial, sans-serif" font-weight="bold" font-size="33.2" fill="#1d1d1f" stroke="#1d1d1f" stroke-width="0.5" stroke-linejoin="round" transform="translate(1250.4 1321) rotate(-90) scale(0.6932 1)">16.350</text>
<text font-family="'Liberation Sans', Arial, sans-serif" font-size="32.6" fill="#1d1d1f" stroke="#1d1d1f" stroke-width="0.6" stroke-linejoin="round" transform="translate(160 1035.82) rotate(-90) scale(0.7377 1)">335</text>
<text font-family="'Liberation Sans', Arial, sans-serif" font-size="32.6" fill="#1d1d1f" stroke="#1d1d1f" stroke-width="0.6" stroke-linejoin="round" transform="translate(160 988.52) rotate(-90) scale(0.7036 1)">-</text>
<text font-family="'Liberation Sans', Arial, sans-serif" font-size="32.6" fill="#1d1d1f" stroke="#1d1d1f" stroke-width="0.6" stroke-linejoin="round" transform="translate(160 972) rotate(-90) scale(0.5390 1)">S.</text>
<text font-family="'Liberation Sans', Arial, sans-serif" font-size="32.6" fill="#1d1d1f" stroke="#1d1d1f" stroke-width="0.6" stroke-linejoin="round" transform="translate(160 948.74) rotate(-90) scale(0.6188 1)">ANATOLIA</text>
<text font-family="'Liberation Sans', Arial, sans-serif" font-size="32.6" fill="#1d1d1f" stroke="#1d1d1f" stroke-width="0.6" stroke-linejoin="round" transform="translate(160 839.42) rotate(-90) scale(0.7913 1)">DI</text>
<text font-family="'Liberation Sans', Arial, sans-serif" font-size="32.6" fill="#1d1d1f" stroke="#1d1d1f" stroke-width="0.6" stroke-linejoin="round" transform="translate(160 810.59) rotate(-90) scale(0.6317 1)">NARCO</text>
<text font-family="'Liberation Sans', Arial, sans-serif" font-size="32.6" fill="#1d1d1f" stroke="#1d1d1f" stroke-width="0.6" stroke-linejoin="round" transform="translate(160 728.97) rotate(-90) scale(0.6291 1)">(CENTRO)</text>
<text font-family="'Liberation Sans', Arial, sans-serif" font-size="32.6" fill="#1d1d1f" stroke="#1d1d1f" stroke-width="0.6" stroke-linejoin="round" transform="translate(615.5 752.38) rotate(-90) scale(0.6485 1)">725</text>
<text font-family="'Liberation Sans', Arial, sans-serif" font-size="32.6" fill="#1d1d1f" stroke="#1d1d1f" stroke-width="0.6" stroke-linejoin="round" transform="translate(615.5 708.03) rotate(-90) scale(0.5026 1)">-</text>
<text font-family="'Liberation Sans', Arial, sans-serif" font-size="32.6" fill="#1d1d1f" stroke="#1d1d1f" stroke-width="0.6" stroke-linejoin="round" transform="translate(615.5 694.14) rotate(-90) scale(0.6258 1)">CASO</text>
<text font-family="'Liberation Sans', Arial, sans-serif" font-size="32.6" fill="#1d1d1f" stroke="#1d1d1f" stroke-width="0.6" stroke-linejoin="round" transform="translate(1012.7 445.04) rotate(-90) scale(0.6603 1)">1153</text>
<text font-family="'Liberation Sans', Arial, sans-serif" font-size="32.6" fill="#1d1d1f" stroke="#1d1d1f" stroke-width="0.6" stroke-linejoin="round" transform="translate(1012.7 389.2) rotate(-90) scale(0.5528 1)">-</text>
<text font-family="'Liberation Sans', Arial, sans-serif" font-size="32.6" fill="#1d1d1f" stroke="#1d1d1f" stroke-width="0.6" stroke-linejoin="round" transform="translate(1012.7 374.51) rotate(-90) scale(0.6186 1)">GAVELLI</text>
<text font-family="'Liberation Sans', Arial, sans-serif" font-weight="bold" font-size="46.6" fill="#1d1d1f" stroke="#1d1d1f" stroke-width="1.2" stroke-linejoin="round" transform="translate(69.55 1154.02) rotate(-90) scale(0.9425 1)">292</text>
<text font-family="'Liberation Sans', Arial, sans-serif" font-weight="bold" font-size="46.6" fill="#1d1d1f" stroke="#1d1d1f" stroke-width="1.2" stroke-linejoin="round" transform="translate(69.55 1065.92) rotate(-90) scale(0.8337 1)">-.BV.</text>
<text font-family="'Liberation Sans', Arial, sans-serif" font-weight="bold" font-size="46.6" fill="#1d1d1f" stroke="#1d1d1f" stroke-width="1.2" stroke-linejoin="round" transform="translate(69.55 962.91) rotate(-90) scale(0.8066 1)">PER</text>
<text font-family="'Liberation Sans', Arial, sans-serif" font-weight="bold" font-size="46.6" fill="#1d1d1f" stroke="#1d1d1f" stroke-width="1.2" stroke-linejoin="round" transform="translate(69.55 871.08) rotate(-90) scale(0.8813 1)">S.ANATOLIA</text>
<text font-family="'Liberation Sans', Arial, sans-serif" font-weight="bold" font-size="46.6" fill="#1d1d1f" stroke="#1d1d1f" stroke-width="1.2" stroke-linejoin="round" transform="translate(69.55 607.01) rotate(-90) scale(0.9340 1)">DI</text>
<text font-family="'Liberation Sans', Arial, sans-serif" font-weight="bold" font-size="46.6" fill="#1d1d1f" stroke="#1d1d1f" stroke-width="1.2" stroke-linejoin="round" transform="translate(69.55 549.72) rotate(-90) scale(0.8716 1)">NARCO</text>
<text font-family="'Liberation Sans', Arial, sans-serif" font-weight="bold" font-size="46.6" fill="#1d1d1f" stroke="#1d1d1f" stroke-width="1.2" stroke-linejoin="round" transform="translate(1304.55 817.56) rotate(-90) scale(0.8719 1)">1211</text>
<text font-family="'Liberation Sans', Arial, sans-serif" font-weight="bold" font-size="46.6" fill="#1d1d1f" stroke="#1d1d1f" stroke-width="1.2" stroke-linejoin="round" transform="translate(1304.55 707.52) rotate(-90) scale(0.8874 1)">-</text>
<text font-family="'Liberation Sans', Arial, sans-serif" font-weight="bold" font-size="46.6" fill="#1d1d1f" stroke="#1d1d1f" stroke-width="1.2" stroke-linejoin="round" transform="translate(1304.55 678.93) rotate(-90) scale(0.8436 1)">FORCA</text>
<text font-family="'Liberation Sans', Arial, sans-serif" font-weight="bold" font-size="46.6" fill="#1d1d1f" stroke="#1d1d1f" stroke-width="1.2" stroke-linejoin="round" transform="translate(1304.55 524.72) rotate(-90) scale(0.8470 1)">CAPISTRELLO</text>
<rect x="1066.9" y="928" width="131" height="161.3" rx="10" ry="10" fill="#fff" stroke="#1d1d1f" stroke-width="2"/>
<text font-family="'Liberation Sans', Arial, sans-serif" font-weight="bold" font-size="41.6" fill="#1d1d1f" stroke="#1d1d1f" stroke-width="0.8" stroke-linejoin="round" transform="translate(1084.66 974.2) scale(0.6260 1)">16.3 km</text>
<text font-family="'Liberation Sans', Arial, sans-serif" font-weight="bold" font-size="41.6" fill="#1d1d1f" stroke="#1d1d1f" stroke-width="0.8" stroke-linejoin="round" transform="translate(1095.9 1025.6) scale(0.6232 1)">919 m</text>
<text font-family="'Liberation Sans', Arial, sans-serif" font-weight="bold" font-size="41.6" fill="#1d1d1f" stroke="#1d1d1f" stroke-width="0.8" stroke-linejoin="round" transform="translate(1102.49 1075.5) scale(0.6317 1)">5.6%</text>
<path d="M170,534.5 L147.5,571.5 L192.5,571.5 Z" fill="#fff" stroke="#e3061a" stroke-width="4.6" stroke-linejoin="round"/>
<polygon points="154.8,567.6 178.2,556.1 184.9,567.4" fill="#1d1d1f"/>
<text font-family="'Liberation Sans', Arial, sans-serif" font-weight="bold" font-size="26.3" fill="#1d1d1f" stroke="#1d1d1f" stroke-width="0.5" stroke-linejoin="round" transform="translate(136.09 600.5) scale(0.6130 1)">max 12 %</text>
<defs><linearGradient id="gb" x1="0" y1="0" x2="0" y2="1"><stop offset="0" stop-color="#4b93e2"/><stop offset="0.285" stop-color="#3d7cd2"/><stop offset="0.30" stop-color="#3160c2"/><stop offset="0.6" stop-color="#2f4db5"/><stop offset="1" stop-color="#2a30a0"/></linearGradient></defs>
<circle cx="1259.2" cy="206.6" r="30" fill="url(#gb)" stroke="#15151f" stroke-width="1.8"/>
<ellipse cx="1259.2" cy="184.3" rx="7.3" ry="3.9" fill="#a8c8f0" opacity="0.85"/>
<polygon points="1235.9,193.9 1282.3,193.9 1259.6,232.4" fill="#fff"/>
<text font-family="'Liberation Sans', Arial, sans-serif" font-weight="bold" font-size="33.6" fill="#1a1a1a" stroke="#1a1a1a" stroke-width="1.4" stroke-linejoin="round" transform="translate(1252.49 222.5) scale(0.7789 1)">2</text>
<text font-family="'Liberation Sans', Arial, sans-serif" font-size="27.5" fill="#1d1d1f" stroke="#1d1d1f" stroke-width="1.6" stroke-linejoin="round" transform="translate(1291.2 1198.27) rotate(-90) scale(1.2566 1)">SDS</text>
</svg>
</body></html>
